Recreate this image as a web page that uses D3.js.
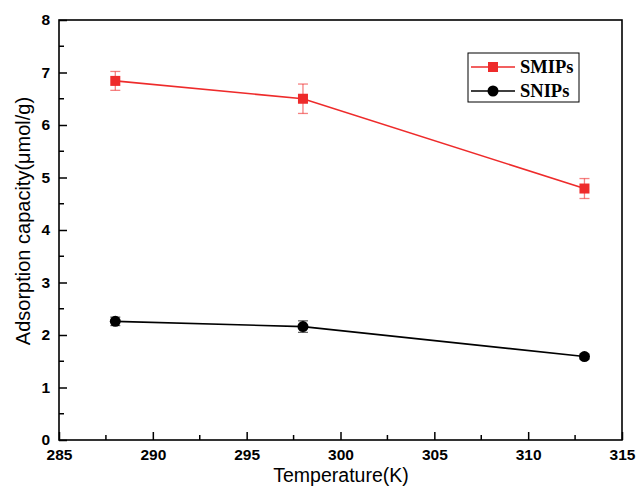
<!DOCTYPE html>
<html><head><meta charset="utf-8">
<script src="https://cdn.jsdelivr.net/npm/d3@7"></script>
<style>body{margin:0;background:#fff;}svg{display:block;}</style>
</head><body>
<svg id="c" width="638" height="487"></svg>
<script>
const temperatures = [288, 298, 313];
const smipsValues = [6.84, 6.50, 4.79];
const smipsErrors = [0.18, 0.28, 0.19];
const snipsValues = [2.26, 2.16, 1.59];
const snipsErrors = [0.08, 0.11, 0.05];
const xTicks = [285, 290, 295, 300, 305, 310, 315];
const yTicks = [0, 1, 2, 3, 4, 5, 6, 7, 8];
const seriesNames = ["SMIPs", "SNIPs"];

const svg = d3.select("#c");
const L = 59, R = 622, T = 20, B = 440;
const x = d3.scaleLinear().domain([285, 315]).range([L, R]);
const y = d3.scaleLinear().domain([0, 8]).range([B, T]);

const red = "#ee2b2b";
const series = [
  {name: seriesNames[0], vals: smipsValues, errs: smipsErrors, color: red, shape: "square"},
  {name: seriesNames[1], vals: snipsValues, errs: snipsErrors, color: "#000", shape: "circle"}
];

// frame
svg.append("rect").attr("x", L).attr("y", T).attr("width", R - L).attr("height", B - T)
  .attr("fill", "none").attr("stroke", "#000").attr("stroke-width", 1.6);

// x axis
const xAxis = d3.axisBottom(x).tickValues(xTicks).tickSize(-8).tickPadding(9).tickFormat(d3.format("d"));
const gx = svg.append("g").attr("transform", `translate(0,${B})`).call(xAxis);
gx.select(".domain").remove();
gx.selectAll("line").attr("stroke-width", 1.5);
gx.selectAll("text").attr("font-family", "Liberation Sans, Arial, sans-serif").attr("font-weight", "bold").attr("font-size", 15.5).attr("fill", "#000");
const xMinor = d3.range(287.5, 315, 5);
gx.selectAll(".mn").data(xMinor).enter().append("line")
  .attr("x1", d => x(d)).attr("x2", d => x(d)).attr("y1", 0).attr("y2", -5)
  .attr("stroke", "#000").attr("stroke-width", 1.5);

// y axis
const yAxis = d3.axisLeft(y).tickValues(yTicks).tickSize(-8).tickPadding(9).tickFormat(d3.format("d"));
const gy = svg.append("g").attr("transform", `translate(${L},0)`).call(yAxis);
gy.select(".domain").remove();
gy.selectAll("line").attr("stroke-width", 1.5);
gy.selectAll("text").attr("font-family", "Liberation Sans, Arial, sans-serif").attr("font-weight", "bold").attr("font-size", 15.5).attr("fill", "#000");
const yMinor = d3.range(0.5, 8, 1);
gy.selectAll(".mn").data(yMinor).enter().append("line")
  .attr("y1", d => y(d)).attr("y2", d => y(d)).attr("x1", 0).attr("x2", 5)
  .attr("stroke", "#000").attr("stroke-width", 1.5);

// titles
svg.append("text").attr("x", 341).attr("y", 482).attr("text-anchor", "middle")
  .attr("font-family", "Liberation Sans, Arial, sans-serif").attr("font-size", 19.5).text("Temperature(K)");
svg.append("text").attr("transform", `translate(30,221) rotate(-90)`).attr("text-anchor", "middle")
  .attr("font-family", "Liberation Sans, Arial, sans-serif").attr("font-size", 20).text("Adsorption capacity(μmol/g)");

// series
const line = d3.line().x(d => x(d[0])).y(d => y(d[1]));
series.forEach(s => {
  const pts = temperatures.map((t, i) => [t, s.vals[i], s.errs[i]]);
  const g = svg.append("g");
  g.append("path").datum(pts).attr("d", line).attr("fill", "none").attr("stroke", s.color).attr("stroke-width", 1.6);
  const eb = g.selectAll(".eb").data(pts).enter().append("g").attr("stroke", s.color).attr("stroke-opacity", 0.6).attr("stroke-width", 1.3);
  eb.append("line").attr("x1", d => x(d[0])).attr("x2", d => x(d[0])).attr("y1", d => y(d[1] - d[2])).attr("y2", d => y(d[1] + d[2]));
  eb.append("line").attr("x1", d => x(d[0]) - 5).attr("x2", d => x(d[0]) + 5).attr("y1", d => y(d[1] - d[2])).attr("y2", d => y(d[1] - d[2]));
  eb.append("line").attr("x1", d => x(d[0]) - 5).attr("x2", d => x(d[0]) + 5).attr("y1", d => y(d[1] + d[2])).attr("y2", d => y(d[1] + d[2]));
  if (s.shape === "square") {
    g.selectAll(".m").data(pts).enter().append("rect")
      .attr("x", d => x(d[0]) - 5).attr("y", d => y(d[1]) - 5).attr("width", 10).attr("height", 10).attr("fill", s.color);
  } else {
    g.selectAll(".m").data(pts).enter().append("circle")
      .attr("cx", d => x(d[0])).attr("cy", d => y(d[1])).attr("r", 5.5).attr("fill", s.color);
  }
});

// legend
const lg = svg.append("g");
lg.append("rect").attr("x", 468).attr("y", 53).attr("width", 111).attr("height", 49)
  .attr("fill", "#fff").attr("stroke", "#000").attr("stroke-width", 1);
series.forEach((s, i) => {
  const yy = 67 + i * 24;
  lg.append("line").attr("x1", 471).attr("x2", 515).attr("y1", yy).attr("y2", yy).attr("stroke", s.color).attr("stroke-width", 1.6);
  if (s.shape === "square") lg.append("rect").attr("x", 488).attr("y", yy - 5).attr("width", 10).attr("height", 10).attr("fill", s.color);
  else lg.append("circle").attr("cx", 493).attr("cy", yy).attr("r", 5.5).attr("fill", s.color);
  lg.append("text").attr("x", 520).attr("y", yy + 6).attr("font-family", "Liberation Serif, Times New Roman, serif")
    .attr("font-weight", "bold").attr("font-size", 18.5).text(s.name);
});
</script>
</body></html>
